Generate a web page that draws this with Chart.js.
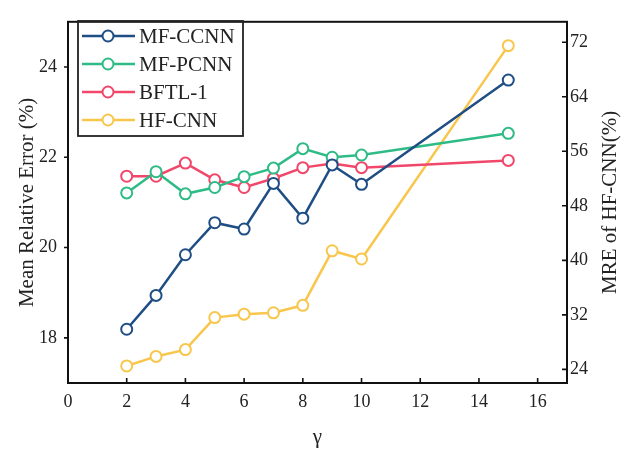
<!DOCTYPE html>
<html>
<head>
<meta charset="utf-8">
<script src="https://cdn.jsdelivr.net/npm/chart.js@4/dist/chart.umd.min.js"></script>
<style>
  html, body { margin: 0; padding: 0; background: #fff; }
  #wrap { width: 630px; height: 450px; }
</style>
</head>
<body>
<div id="wrap"><canvas id="chart" width="630" height="450"></canvas></div>
<script>
const gamma = [2, 3, 4, 5, 6, 7, 8, 9, 10, 15]
const mfCcnn = [18.19, 18.94, 19.84, 20.55, 20.41, 21.42, 20.65, 21.83, 21.40, 23.71]
const mfPcnn = [21.21, 21.68, 21.19, 21.33, 21.57, 21.76, 22.19, 22.00, 22.05, 22.53]
const bftl1 = [21.58, 21.58, 21.87, 21.50, 21.33, 21.53, 21.77, 21.86, 21.77, 21.93]
const hfCnn = [24.5, 25.9, 26.9, 31.6, 32.1, 32.3, 33.4, 41.4, 40.2, 71.5]

const xTicks = [0, 2, 4, 6, 8, 10, 12, 14, 16]
const leftTicks = [18, 20, 22, 24]
const rightTicks = [24, 32, 40, 48, 56, 64, 72]

const FONT = "'Liberation Serif', 'Times New Roman', serif"
const INK = '#222'

function points (ys) {
  return ys.map((y, i) => ({ x: gamma[i], y: y }))
}

function series (label, ys, color, axis) {
  return {
    label: label,
    data: points(ys),
    yAxisID: axis,
    borderColor: color,
    backgroundColor: '#fff',
    borderWidth: 2.5,
    pointRadius: 5.5,
    pointBorderWidth: 2,
    pointBackgroundColor: '#fff',
    pointBorderColor: color,
    tension: 0
  }
}

function fixTicks (list) {
  return function (scale) {
    scale.ticks = list.map(v => ({ value: v }))
  }
}

// frame, tick marks, boxed legend and right-hand title
const decorPlugin = {
  id: 'decor',
  afterDraw: (chart) => {
    const { ctx, chartArea: a, scales } = chart
    ctx.save()
    ctx.strokeStyle = '#111'
    ctx.lineWidth = 2
    ctx.strokeRect(a.left, a.top, a.right - a.left, a.bottom - a.top)

    ctx.lineWidth = 1.6
    ctx.beginPath()
    xTicks.forEach(v => {
      const px = scales.x.getPixelForValue(v)
      ctx.moveTo(px, a.bottom)
      ctx.lineTo(px, a.bottom - 5)
    })
    leftTicks.forEach(v => {
      const py = scales.y.getPixelForValue(v)
      ctx.moveTo(a.left, py)
      ctx.lineTo(a.left - 4, py)
    })
    rightTicks.forEach(v => {
      const py = scales.y1.getPixelForValue(v)
      ctx.moveTo(a.right, py)
      ctx.lineTo(a.right - 5, py)
    })
    ctx.stroke()

    // legend
    const bx = 78
    const by = 21
    ctx.lineWidth = 1.8
    ctx.strokeStyle = '#222'
    ctx.strokeRect(bx, by, 165, 115)
    ctx.font = '21px ' + FONT
    ctx.textBaseline = 'middle'
    ctx.textAlign = 'left'
    chart.data.datasets.forEach((ds, i) => {
      const y = by + 15 + i * 28
      ctx.strokeStyle = ds.borderColor
      ctx.lineWidth = 2.5
      ctx.beginPath()
      ctx.moveTo(bx + 4, y)
      ctx.lineTo(bx + 57, y)
      ctx.stroke()
      ctx.beginPath()
      ctx.arc(bx + 30, y, 5.5, 0, Math.PI * 2)
      ctx.fillStyle = '#fff'
      ctx.fill()
      ctx.lineWidth = 2
      ctx.stroke()
      ctx.fillStyle = INK
      ctx.fillText(ds.label, bx + 61, y + 1)
    })

    // right axis title, reading bottom to top
    ctx.translate(610, (a.top + a.bottom) / 2)
    ctx.rotate(-Math.PI / 2)
    ctx.textAlign = 'center'
    ctx.fillStyle = INK
    ctx.fillText('MRE of HF-CNN(%)', 0, 0)
    ctx.restore()
  }
}

new Chart('chart', {
  type: 'line',
  data: {
    datasets: [
      series('MF-CCNN', mfCcnn, '#1f4e85', 'y'),
      series('MF-PCNN', mfPcnn, '#2fbb86', 'y'),
      series('BFTL-1', bftl1, '#f0476b', 'y'),
      series('HF-CNN', hfCnn, '#f8c64c', 'y1')
    ]
  },
  options: {
    responsive: false,
    animation: false,
    layout: { padding: { top: 13, left: 0, right: 0, bottom: 0 } },
    plugins: {
      legend: { display: false },
      tooltip: { enabled: false }
    },
    scales: {
      x: {
        type: 'linear',
        min: 0,
        max: 17,
        afterBuildTicks: fixTicks(xTicks),
        afterFit: (s) => { s.height = 67 },
        grid: { display: false, drawTicks: false, tickLength: 0 },
        border: { display: false },
        ticks: { padding: 8, color: INK, font: { family: FONT, size: 18 } },
        title: {
          display: true,
          text: 'γ',
          color: INK,
          font: { family: FONT, size: 21 },
          padding: { top: 0, bottom: 0 }
        }
      },
      y: {
        type: 'linear',
        position: 'left',
        min: 17,
        max: 25,
        afterBuildTicks: fixTicks(leftTicks),
        afterFit: (s) => { s.width = 68 },
        grid: { display: false, drawTicks: false, tickLength: 0 },
        border: { display: false },
        ticks: { padding: 11, color: INK, font: { family: FONT, size: 18 } },
        title: {
          display: true,
          text: 'Mean Relative Error (%)',
          color: INK,
          font: { family: FONT, size: 21 },
          padding: { top: 15, bottom: 0 }
        }
      },
      y1: {
        type: 'linear',
        position: 'right',
        min: 22,
        max: 75,
        afterBuildTicks: fixTicks(rightTicks),
        afterFit: (s) => { s.width = 63 },
        grid: { display: false, drawTicks: false, tickLength: 0 },
        border: { display: false },
        ticks: { padding: 3, color: INK, font: { family: FONT, size: 18 } }
      }
    }
  },
  plugins: [decorPlugin]
})
</script>
</body>
</html>
